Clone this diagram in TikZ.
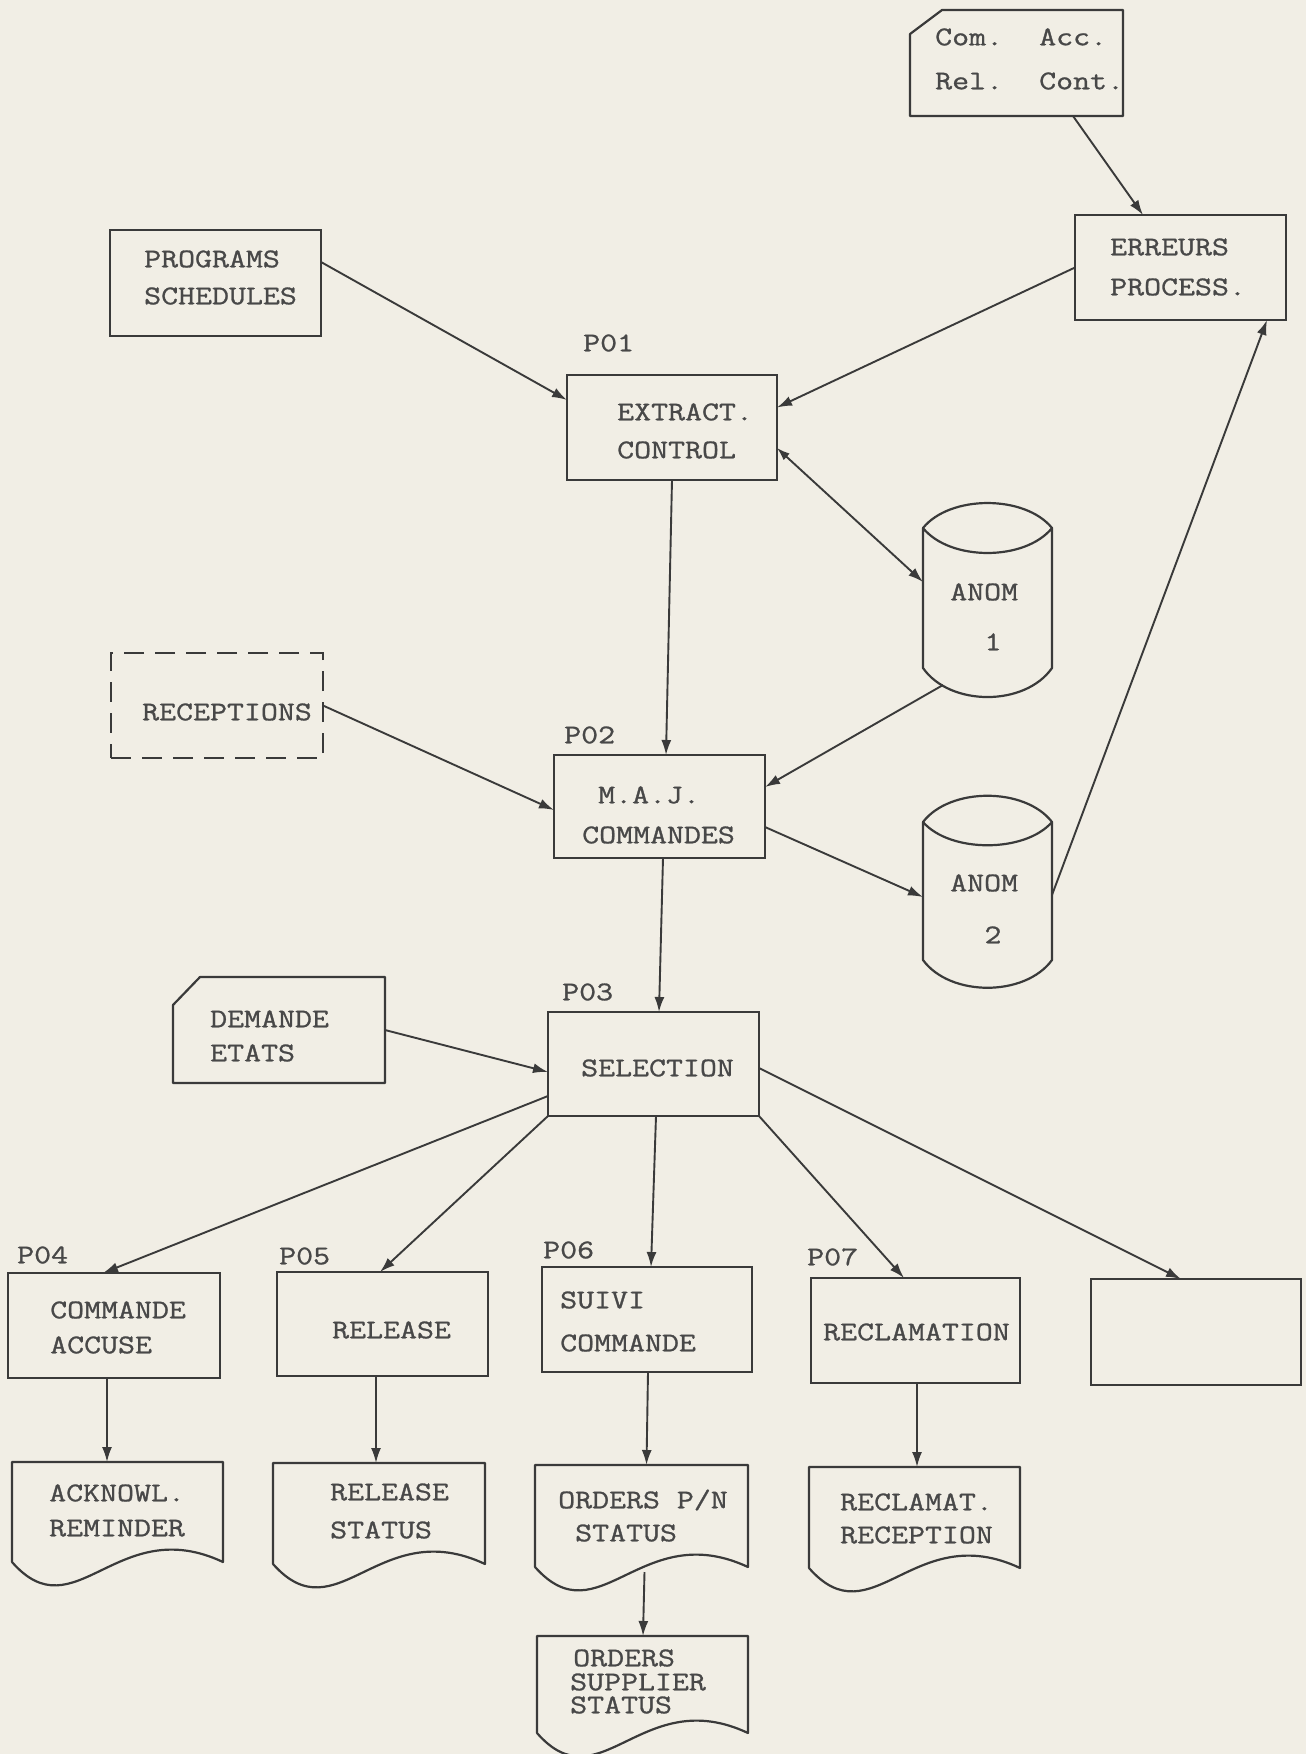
\documentclass[tikz,border=0pt]{standalone}
\usepackage{fontspec}
\newfontfamily\tw{Latin Modern Mono}[FakeStretch=1.22,FakeBold=1]
\usetikzlibrary{arrows.meta,calc}
\definecolor{paper}{RGB}{241,238,229}
\definecolor{ink}{RGB}{58,58,58}
\definecolor{inktxt}{RGB}{72,72,72}
\tikzset{
  box/.style={draw=ink, line width=2.2pt, rectangle, inner sep=0pt, outer sep=0pt, anchor=north west},
  dbox/.style={box, dash pattern=on 20pt off 11pt},
  area/.style={rectangle, inner sep=0pt, outer sep=0pt, anchor=north west},
  shapeline/.style={draw=ink, line width=2.2pt, line join=round},
  txt/.style={anchor=west, inner sep=0pt, text=inktxt, text height=16.5pt, text depth=0pt,
    font=\tw\fontsize{27pt}{30pt}\selectfont},
  ctxt/.style={txt, anchor=center},
  arr/.style={draw=ink, line width=1.9pt, -{Latex[length=15pt,width=10pt]}},
  arrboth/.style={draw=ink, line width=1.9pt, {Latex[length=13pt,width=9pt]}-{Latex[length=15pt,width=10pt]}},
}
\begin{document}
\begin{tikzpicture}[x=1pt,y=-1pt]
\fill[paper] (0,0) rectangle (1306,1754);
\useasboundingbox (0,0) rectangle (1306,1754);

% ---------- shapes ----------
\node[area, minimum width=213pt, minimum height=106pt] (com) at (910,10) {};
\begin{scope}[shift={(com.north west)}]
  \draw[shapeline] (0,24) -- (32,0) -- (213,0) -- (213,106) -- (0,106) -- cycle;
\end{scope}
\node[box, minimum width=211pt, minimum height=105pt] (err) at (1075,215) {};
\node[box, minimum width=211pt, minimum height=106pt] (prog) at (110,230) {};
\node[box, minimum width=210pt, minimum height=105pt] (ext) at (567,375) {};
\node[dbox, minimum width=212pt, minimum height=105pt] (rec) at (111,653) {};
\node[box, minimum width=211pt, minimum height=103pt] (maj) at (554,755) {};

\node[area, minimum width=129pt, minimum height=140pt] (anom1) at (923,528) {};
\begin{scope}[shift={(anom1.north west)}]
  \draw[shapeline] (0,0) -- (0,140) .. controls (27,178.7) and (102,178.7) .. (129,140) -- (129,0)
     .. controls (102,-33.3) and (27,-33.3) .. (0,0) .. controls (27,33.3) and (102,33.3) .. (129,0);
\end{scope}
\node[area, minimum width=129pt, minimum height=138pt] (anom2) at (923,822) {};
\begin{scope}[shift={(anom2.north west)}]
  \draw[shapeline] (0,0) -- (0,138) .. controls (27,175) and (102,175) .. (129,138) -- (129,0)
     .. controls (102,-35) and (27,-35) .. (0,0) .. controls (27,31) and (102,31) .. (129,0);
\end{scope}

\node[area, minimum width=212pt, minimum height=106pt] (dem) at (173,977) {};
\begin{scope}[shift={(dem.north west)}]
  \draw[shapeline] (0,28) -- (27,0) -- (212,0) -- (212,106) -- (0,106) -- cycle;
\end{scope}
\node[box, minimum width=211pt, minimum height=104pt] (sel) at (548,1012) {};

\node[box, minimum width=212pt, minimum height=105pt] (p04) at (8,1273) {};
\node[box, minimum width=211pt, minimum height=104pt] (p05) at (277,1272) {};
\node[box, minimum width=210pt, minimum height=105pt] (p06) at (542,1267) {};
\node[box, minimum width=209pt, minimum height=105pt] (p07) at (811,1278) {};
\node[box, minimum width=210pt, minimum height=106pt] (emp) at (1091,1279) {};

\node[area, minimum width=211pt, minimum height=100pt] (ack) at (12,1462) {};
\begin{scope}[shift={(ack.north west)}]
  \draw[shapeline] (0,100) -- (0,0) -- (211,0) -- (211,100) .. controls (105,50) and (63,172) .. (0,100);
\end{scope}
\node[area, minimum width=212pt, minimum height=101pt] (rst) at (273,1463) {};
\begin{scope}[shift={(rst.north west)}]
  \draw[shapeline] (0,101) -- (0,0) -- (212,0) -- (212,101) .. controls (106,51) and (64,173) .. (0,101);
\end{scope}
\node[area, minimum width=213pt, minimum height=102pt] (ord) at (535,1465) {};
\begin{scope}[shift={(ord.north west)}]
  \draw[shapeline] (0,102) -- (0,0) -- (213,0) -- (213,102) .. controls (106,52) and (64,174) .. (0,102);
\end{scope}
\node[area, minimum width=211pt, minimum height=101pt] (rcl) at (809,1467) {};
\begin{scope}[shift={(rcl.north west)}]
  \draw[shapeline] (0,101) -- (0,0) -- (211,0) -- (211,101) .. controls (105,51) and (63,173) .. (0,101);
\end{scope}
\node[area, minimum width=211pt, minimum height=97pt] (osu) at (537,1636) {};
\begin{scope}[shift={(osu.north west)}]
  \draw[shapeline] (0,97) -- (0,0) -- (211,0) -- (211,97) .. controls (105,47) and (63,169) .. (0,97);
\end{scope}

% ---------- texts ----------
\node[txt] (tcom1) at (935,37) {Com.};
\node[txt] (tcom2) at (1039,37) {Acc.};
\node[txt] (tcom3) at (935,81) {Rel.};
\node[txt] (tcom4) at (1039,81) {Cont.};
\node[txt] (terr1) at (1110,247) {ERREURS};
\node[txt] (terr2) at (1110,287) {PROCESS.};
\node[txt] (tprog1) at (144,259) {PROGRAMS};
\node[txt] (tprog2) at (144,296) {SCHEDULES};
\node[txt] (lp01) at (583,343) {P01};
\node[txt] (text1) at (617,412) {EXTRACT.};
\node[txt] (text2) at (617,450) {CONTROL};
\node[txt] (trec) at (142,712) {RECEPTIONS};
\node[txt] (lp02) at (564,735) {P02};
\node[txt] (tmaj1) at (598,795) {M.A.J.};
\node[txt] (tmaj2) at (582,835) {COMMANDES};
\node[txt] (ta1a) at (950,592) {ANOM};
\node[ctxt] (ta1b) at (993,642) {1};
\node[txt] (ta2a) at (950,883) {ANOM};
\node[ctxt] (ta2b) at (993,935) {2};
\node[txt] (lp03) at (562,992) {P03};
\node[txt] (tdem1) at (210,1019) {DEMANDE};
\node[txt] (tdem2) at (210,1053) {ETATS};
\node[txt] (tsel) at (581,1068) {SELECTION};
\node[txt] (lp04) at (17,1255) {P04};
\node[txt] (tp04a) at (50,1310) {COMMANDE};
\node[txt] (tp04b) at (50,1345) {ACCUSE};
\node[txt] (lp05) at (279,1256) {P05};
\node[txt] (tp05) at (332,1330) {RELEASE};
\node[txt] (lp06) at (543,1250) {P06};
\node[txt] (tp06a) at (560,1300) {SUIVI};
\node[txt] (tp06b) at (560,1343) {COMMANDE};
\node[txt] (lp07) at (807,1257) {P07};
\node[txt] (tp07) at (823,1332) {RECLAMATION};
\node[txt] (tack1) at (49,1493) {ACKNOWL.};
\node[txt] (tack2) at (49,1528) {REMINDER};
\node[txt] (trst1) at (330,1492) {RELEASE};
\node[txt] (trst2) at (330,1530) {STATUS};
\node[txt] (tord1) at (558,1500) {ORDERS P/N};
\node[txt] (tord2) at (575,1533) {STATUS};
\node[txt] (trcl1) at (840,1502) {RECLAMAT.};
\node[txt] (trcl2) at (840,1535) {RECEPTION};
\node[txt] (tosu1) at (573,1658) {ORDERS};
\node[txt] (tosu2) at (570,1682) {SUPPLIER};
\node[txt] (tosu3) at (570,1705) {STATUS};

% ---------- connectors ----------
\draw[arr] ($(com.south)+(56.5,0)$) -- ($(err.north)+(-37.5,0)$);
\draw[arr] (err.west) -- ($(ext.east)+(0,-20)$);
\draw[arr] ($(prog.east)+(0,-21)$) -- ($(ext.west)+(0,-27.5)$);
\draw[arrboth] ($(ext.east)+(0,20.5)$) -- ($(anom1.north west)+(0,54)$);
\draw[arr] (ext.south) -- ($(maj.north)+(6.5,0)$);
\draw[arr] (rec.east) -- ($(maj.west)+(0,3.5)$);
\draw[arr] ($(anom1.south west)+(20,17)$) -- ($(maj.east)+(0,-19.5)$);
\draw[arr] ($(maj.east)+(0,20.5)$) -- ($(anom2.north west)+(0,75)$);
\draw[arr] ($(anom2.north east)+(0,73)$) -- ($(err.south)+(86.5,0)$);
\draw[arr] ($(maj.south)+(3.5,0)$) -- ($(sel.north)+(5.5,0)$);
\draw[arr] (dem.east) -- ($(sel.west)+(0,8)$);
\draw[arr] ($(sel.west)+(0,32)$) -- ($(p04.north)+(-11,0)$);
\draw[arr] (sel.south west) -- ($(p05.north)+(-2.5,0)$);
\draw[arr] ($(sel.south)+(2.5,0)$) -- ($(p06.north)+(4,0)$);
\draw[arr] (sel.south east) -- ($(p07.north)+(-11.5,0)$);
\draw[arr] ($(sel.east)+(0,4)$) -- ($(emp.north)+(-15,0)$);
\draw[arr] ($(p04.south)+(-7,0)$) -- ($(ack.north)+(-10.5,0)$);
\draw[arr] ($(p05.south)+(-6.5,0)$) -- ($(rst.north)+(-3,0)$);
\draw[arr] ($(p06.south)+(1,0)$) -- ($(ord.north)+(5,0)$);
\draw[arr] ($(ord.south)+(3,5)$) -- ($(osu.north)+(0.5,0)$);
\draw[arr] ($(p07.south)+(1.5,0)$) -- ($(rcl.north)+(2.5,0)$);
\end{tikzpicture}
\end{document}
